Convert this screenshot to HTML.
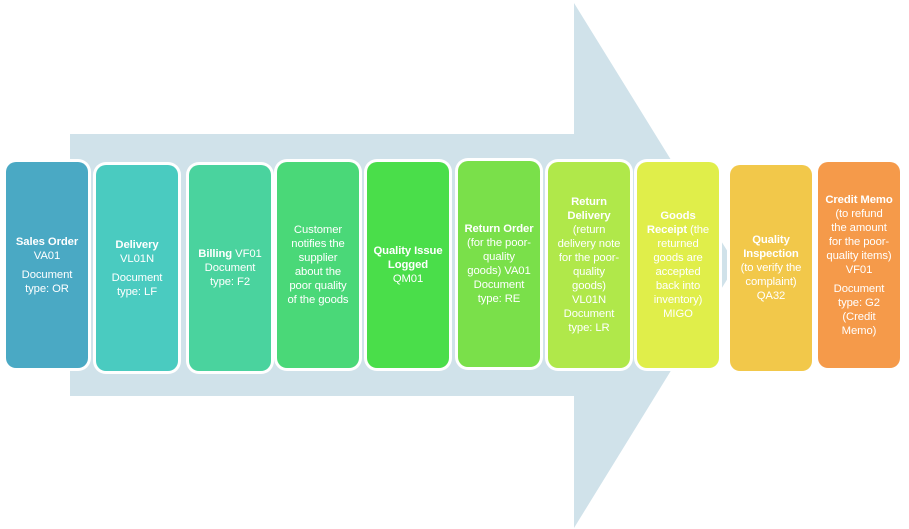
<!DOCTYPE html>
<html><head><meta charset="utf-8"><style>
body{margin:0;width:909px;height:529px;background:#fff;position:relative;overflow:hidden;font-family:"Liberation Sans",sans-serif}
.b{position:absolute;width:82px;height:206px;border-radius:10px;box-shadow:0 0 0 3px #fff;display:flex;align-items:center;justify-content:center;text-align:center;color:#fff;font-size:11.3px;line-height:14px;letter-spacing:-0.1px;white-space:nowrap}
.b b{font-weight:bold}
.g{height:5px}
</style></head><body>
<svg width="909" height="529" style="position:absolute;left:0;top:0">
<polygon points="70,134 574,134 574,3 736,265 574,528 574,396 70,396" fill="#d0e2ea"/>
</svg>
<div class="b" style="left:6px;top:162px;background:#4aa9c4"><div><b>Sales Order</b><br>VA01<div class="g"></div>Document<br>type: OR</div></div>
<div class="b" style="left:96px;top:165px;background:#4acbc0"><div><b>Delivery</b><br>VL01N<div class="g"></div>Document<br>type: LF</div></div>
<div class="b" style="left:189px;top:165px;background:#4ad39e"><div><b>Billing</b> VF01<br>Document<br>type: F2</div></div>
<div class="b" style="left:277px;top:162px;background:#4ad878"><div>Customer<br>notifies the<br>supplier<br>about the<br>poor quality<br>of the goods</div></div>
<div class="b" style="left:367px;top:162px;background:#4ade4a"><div><b>Quality Issue<br>Logged</b><br>QM01</div></div>
<div class="b" style="left:458px;top:161px;background:#7ae04a"><div><b>Return Order</b><br>(for the poor-<br>quality<br>goods) VA01<br>Document<br>type: RE</div></div>
<div class="b" style="left:548px;top:162px;background:#b0e84a"><div><b>Return<br>Delivery</b><br>(return<br>delivery note<br>for the poor-<br>quality<br>goods)<br>VL01N<br>Document<br>type: LR</div></div>
<div class="b" style="left:637px;top:162px;background:#e0ee4a"><div><b>Goods<br>Receipt</b> (the<br>returned<br>goods are<br>accepted<br>back into<br>inventory)<br>MIGO</div></div>
<div class="b" style="left:730px;top:165px;background:#f2c84a"><div><b>Quality<br>Inspection</b><br>(to verify the<br>complaint)<br>QA32</div></div>
<div class="b" style="left:818px;top:162px;background:#f59a4a"><div><b>Credit Memo</b><br>(to refund<br>the amount<br>for the poor-<br>quality items)<br>VF01<div class="g"></div>Document<br>type: G2<br>(Credit<br>Memo)</div></div>
</body></html>
